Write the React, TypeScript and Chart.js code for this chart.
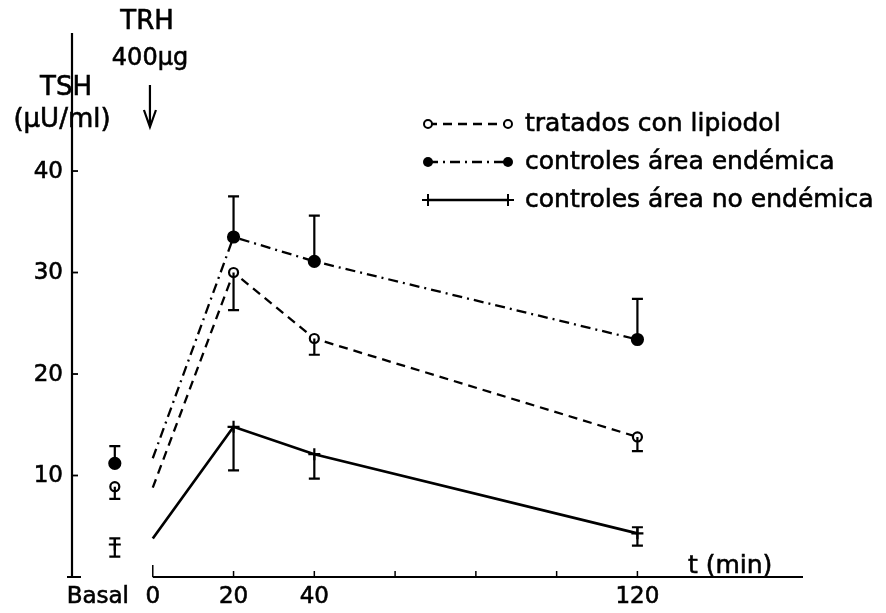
import React, { useEffect, useRef } from "react";
import { Chart, registerables } from "chart.js";

Chart.register(...registerables);

// ---- data ----
const times = [0, 20, 40, 120];
const basalTime = -9.4;

const lipiodolMean = [8.8, 30.0, 23.5, 13.8];
const lipiodolLow = [null, 26.3, 21.9, 12.4];
const lipiodolHigh = [null, null, null, null];
const lipiodolBasal = [8.9];
const lipiodolBasalLow = [7.7];
const lipiodolBasalHigh = [null];

const endemicaMean = [11.7, 33.5, 31.1, 23.4];
const endemicaLow = [null, null, null, null];
const endemicaHigh = [null, 37.5, 35.6, 27.4];
const endemicaBasal = [11.2];
const endemicaBasalLow = [null];
const endemicaBasalHigh = [12.9];

const noEndemicaMean = [3.8, 14.8, 12.1, 4.3];
const noEndemicaLow = [null, 10.5, 9.7, 3.1];
const noEndemicaHigh = [null, null, null, 4.9];
const noEndemicaBasal = [3.2];
const noEndemicaBasalLow = [2.0];
const noEndemicaBasalHigh = [3.8];

const seriesNames = [
  "tratados con lipiodol",
  "controles área endémica",
  "controles área no endémica",
];

const yTicks = [10, 20, 30, 40];
const yTickLabels = ["10", "20", "30", "40"];
const xTicks = [0, 20, 40, 60, 80, 100, 120];
const xTickLabels = ["0", "20", "40", "", "", "", "120"];
const basalLabel = "Basal";
const xTitle = "t (min)";
const yTitle = ["TSH", "(µU/ml)"];
const trhLabel = ["TRH", "400µg"];

const X_MIN = -20;
const X_MAX = 161;
const Y_MIN = 0;
const Y_MAX = 53.6;

const FONT = "DejaVu Sans";
const INK = "#000";

type Marker = "open" | "filled" | "plus";
const markers: Marker[] = ["open", "filled", "plus"];
const dashes: number[][] = [[9, 6], [10, 5, 2, 5], []];
const widths = [2.3, 2.3, 2.7];

function drawMarker(ctx: CanvasRenderingContext2D, kind: Marker, x: number, y: number) {
  ctx.save();
  ctx.setLineDash([]);
  ctx.strokeStyle = INK;
  ctx.fillStyle = INK;
  ctx.lineWidth = 2;
  if (kind === "open") {
    ctx.beginPath();
    ctx.arc(x, y, 4, 0, Math.PI * 2);
    ctx.fillStyle = "#fff";
    ctx.fill();
    ctx.stroke();
  } else if (kind === "filled") {
    ctx.beginPath();
    ctx.arc(x, y, 5, 0, Math.PI * 2);
    ctx.fill();
  } else {
    ctx.beginPath();
    ctx.moveTo(x - 6, y);
    ctx.lineTo(x + 6, y);
    ctx.moveTo(x, y - 6);
    ctx.lineTo(x, y + 6);
    ctx.stroke();
  }
  ctx.restore();
}

function text(ctx: CanvasRenderingContext2D, s: string, x: number, y: number) {
  ctx.fillText(s, x, y);
  ctx.strokeText(s, x, y);
}

export default function App() {
  const canvasRef = useRef<HTMLCanvasElement | null>(null);

  useEffect(() => {
    const canvas = canvasRef.current;
    if (!canvas) return;

    const errors = [
      { xs: times, mean: lipiodolMean, low: lipiodolLow, high: lipiodolHigh },
      { xs: times, mean: endemicaMean, low: endemicaLow, high: endemicaHigh },
      { xs: times, mean: noEndemicaMean, low: noEndemicaLow, high: noEndemicaHigh },
      { xs: [basalTime], mean: lipiodolBasal, low: lipiodolBasalLow, high: lipiodolBasalHigh },
      { xs: [basalTime], mean: endemicaBasal, low: endemicaBasalLow, high: endemicaBasalHigh },
      { xs: [basalTime], mean: noEndemicaBasal, low: noEndemicaBasalLow, high: noEndemicaBasalHigh },
    ];

    const pointStyleFor = (m: Marker) => (m === "plus" ? "cross" : "circle");
    const radiusFor = (m: Marker) => (m === "plus" ? 6 : m === "filled" ? 5.5 : 4.5);

    const lineDs = [lipiodolMean, endemicaMean, noEndemicaMean].map((vals, i) => ({
      label: seriesNames[i],
      data: vals.map((v, j) => ({ x: times[j], y: v })),
      borderColor: INK,
      borderWidth: widths[i],
      borderDash: dashes[i],
      pointStyle: pointStyleFor(markers[i]),
      pointRadius: vals.map((_, j) => (j === 0 ? 0 : radiusFor(markers[i]))),
      pointBorderWidth: 2.2,
      pointBorderColor: INK,
      pointBackgroundColor: markers[i] === "open" ? "#fff" : INK,
      fill: false,
      tension: 0,
    }));

    const basalDs = [lipiodolBasal, endemicaBasal, noEndemicaBasal].map((vals, i) => ({
      label: seriesNames[i] + " (basal)",
      data: vals.map((v) => ({ x: basalTime, y: v })),
      showLine: false,
      borderColor: INK,
      pointStyle: pointStyleFor(markers[i]),
      pointRadius: radiusFor(markers[i]),
      pointBorderWidth: 2.2,
      pointBorderColor: INK,
      pointBackgroundColor: markers[i] === "open" ? "#fff" : INK,
    }));

    const decor = {
      id: "decor",
      beforeDatasetsDraw(chart: any) {
        const ctx: CanvasRenderingContext2D = chart.ctx;
        const xs = chart.scales.x;
        const ys = chart.scales.y;
        ctx.save();
        ctx.strokeStyle = INK;
        ctx.lineWidth = 2.2;
        ctx.setLineDash([]);
        // y axis
        const ax = xs.getPixelForValue(X_MIN);
        const y0 = ys.getPixelForValue(0);
        ctx.beginPath();
        ctx.moveTo(ax, ys.getPixelForValue(Y_MAX));
        ctx.lineTo(ax, y0);
        ctx.moveTo(ax - 5, y0);
        ctx.lineTo(ax + 9, y0);
        ctx.stroke();
        ctx.lineWidth = 1.8;
        yTicks.forEach((t) => {
          const py = ys.getPixelForValue(t);
          ctx.beginPath();
          ctx.moveTo(ax, py);
          ctx.lineTo(ax + 6, py);
          ctx.stroke();
        });
        // x axis
        ctx.lineWidth = 2.2;
        ctx.beginPath();
        ctx.moveTo(xs.getPixelForValue(0), y0);
        ctx.lineTo(xs.getPixelForValue(X_MAX), y0);
        ctx.stroke();
        ctx.lineWidth = 1.5;
        xTicks.forEach((t, i) => {
          const px = xs.getPixelForValue(t);
          ctx.beginPath();
          ctx.moveTo(px, y0);
          ctx.lineTo(px, y0 - (i === 0 ? 12 : 6));
          ctx.stroke();
        });
        ctx.restore();
      },
      afterDatasetsDraw(chart: any) {
        const ctx: CanvasRenderingContext2D = chart.ctx;
        const xs = chart.scales.x;
        const ys = chart.scales.y;
        ctx.save();
        ctx.strokeStyle = INK;
        ctx.lineWidth = 2.2;
        ctx.setLineDash([]);
        errors.forEach((e) => {
          e.xs.forEach((t, j) => {
            const px = xs.getPixelForValue(t);
            const pm = ys.getPixelForValue(e.mean[j]);
            [e.low[j], e.high[j]].forEach((v) => {
              if (v === null || v === undefined) return;
              const pv = ys.getPixelForValue(v);
              ctx.beginPath();
              ctx.moveTo(px, pm);
              ctx.lineTo(px, pv);
              ctx.moveTo(px - 5.5, pv);
              ctx.lineTo(px + 5.5, pv);
              ctx.stroke();
            });
          });
        });
        ctx.restore();
      },
      afterDraw(chart: any) {
        const ctx: CanvasRenderingContext2D = chart.ctx;
        const xs = chart.scales.x;
        const ys = chart.scales.y;
        ctx.save();
        ctx.fillStyle = INK;
        ctx.strokeStyle = INK;
        ctx.lineWidth = 0.6;
        ctx.font = `23px "${FONT}"`;
        // y tick labels
        ctx.textAlign = "right";
        ctx.textBaseline = "middle";
        const ax = xs.getPixelForValue(X_MIN);
        yTicks.forEach((t, i) => {
          text(ctx, yTickLabels[i], ax - 9, ys.getPixelForValue(t) + 1);
        });
        // x tick labels
        ctx.textAlign = "center";
        ctx.textBaseline = "alphabetic";
        const y0 = ys.getPixelForValue(0);
        xTicks.forEach((t, i) => {
          if (xTickLabels[i]) text(ctx, xTickLabels[i], xs.getPixelForValue(t), y0 + 26);
        });
        text(ctx, basalLabel, xs.getPixelForValue(basalTime) - 17, y0 + 26);
        // x title
        ctx.font = `25px "${FONT}"`;
        ctx.textAlign = "left";
        text(ctx, xTitle, xs.getPixelForValue(132.5), y0 - 4);
        // y title
        ctx.textAlign = "center";
        ctx.font = `26px "${FONT}"`;
        text(ctx, yTitle[0], 66, 95);
        text(ctx, yTitle[1], 62, 127);
        // TRH
        text(ctx, trhLabel[0], 147, 29);
        ctx.font = `24px "${FONT}"`;
        text(ctx, trhLabel[1], 150, 65);
        // arrow
        const arX = xs.getPixelForValue(-0.7);
        ctx.lineWidth = 2.2;
        ctx.beginPath();
        ctx.moveTo(arX, 85);
        ctx.lineTo(arX, 127);
        ctx.moveTo(arX - 6, 110);
        ctx.lineTo(arX, 127);
        ctx.lineTo(arX + 6, 110);
        ctx.stroke();
        // legend
        const rows = [124, 162, 200];
        ctx.font = `25px "${FONT}"`;
        ctx.textAlign = "left";
        rows.forEach((ry, i) => {
          const x1 = 428;
          const x2 = 508;
          ctx.save();
          ctx.lineWidth = widths[i];
          ctx.setLineDash(dashes[i]);
          ctx.beginPath();
          ctx.moveTo(x1, ry);
          ctx.lineTo(x2, ry);
          ctx.stroke();
          ctx.restore();
          drawMarker(ctx, markers[i], x1, ry);
          drawMarker(ctx, markers[i], x2, ry);
          ctx.lineWidth = 0.6;
          text(ctx, seriesNames[i], 525, ry + 7);
        });
        ctx.restore();
      },
    };

    const chart = new Chart(canvas, {
      type: "line",
      data: { datasets: [...lineDs, ...basalDs] as any },
      options: {
        animation: false,
        responsive: false,
        maintainAspectRatio: false,
        layout: { padding: { left: 72, right: 83, top: 33, bottom: 36 } },
        scales: {
          x: { type: "linear", min: X_MIN, max: X_MAX, display: false },
          y: { type: "linear", min: Y_MIN, max: Y_MAX, display: false },
        },
        plugins: { legend: { display: false }, tooltip: { enabled: false } },
        events: [],
      },
      plugins: [decor],
    });
    return () => chart.destroy();
  }, []);

  return (
    <div style={{ position: "fixed", left: 0, top: 0, width: 886, height: 613, background: "#fff" }}>
      <canvas ref={canvasRef} width={886} height={613} />
    </div>
  );
}
